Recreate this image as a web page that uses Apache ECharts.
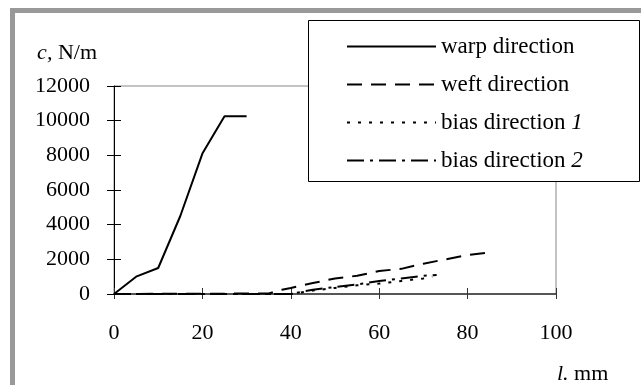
<!DOCTYPE html>
<html>
<head>
<meta charset="utf-8">
<script src="https://cdn.jsdelivr.net/npm/echarts@6/dist/echarts.min.js"></script>
<style>
  html, body { margin: 0; padding: 0; background: #fff; }
  #chart { width: 641px; height: 385px; }
</style>
</head>
<body>
<div id="chart"></div>
<script>
// 数据：每条曲线的 l (mm) 与 c (N/m)
const warpL = [0, 5, 10, 15, 20, 25, 30]
const warpC = [0, 1000, 1500, 4500, 8100, 10250, 10250]

const weftL = [0, 35, 38, 40, 45, 50, 55, 60, 65, 70, 75, 80, 85]
const weftC = [0, 30, 250, 350, 630, 900, 1050, 1330, 1450, 1750, 2000, 2250, 2400]

const bias1L = [0, 40, 45, 50, 55, 60, 65, 70, 72]
const bias1C = [0, 0, 200, 350, 500, 600, 750, 900, 1000]

const bias2L = [0, 40, 45, 50, 55, 60, 65, 70, 73]
const bias2C = [0, 0, 250, 400, 550, 750, 900, 1050, 1100]

const seriesNames = ['warp direction', 'weft direction', 'bias direction 1', 'bias direction 2']

const font = 'Liberation Serif'

const zip = (xs, ys) => xs.map((x, i) => [x, ys[i]])

const chart = echarts.init(document.getElementById('chart'))

// 线型
const lineTypes = ['solid', [15, 9], [3, 8], [17, 6, 3, 6]]
const lineData = [zip(warpL, warpC), zip(weftL, weftC), zip(bias1L, bias1C), zip(bias2L, bias2C)]

const series = seriesNames.map((name, i) => ({
  name: name,
  type: 'line',
  symbol: 'none',
  xAxisIndex: 0,
  yAxisIndex: 0,
  data: lineData[i],
  lineStyle: { color: '#000', width: 2, type: lineTypes[i] },
  itemStyle: { color: '#000' }
}))

const axisCommon = {
  type: 'value',
  splitLine: { show: false },
  axisLine: { show: true, lineStyle: { color: '#000', width: 1 } },
  axisTick: { show: true, length: 7, lineStyle: { color: '#000' } }
}

const option = {
  animation: false,
  backgroundColor: '#fff',
  textStyle: { fontFamily: font },
  grid: {
    left: 114, right: 85, top: 86, bottom: 91,
    show: true, borderColor: '#888', borderWidth: 1
  },
  xAxis: [
    {
      ...axisCommon,
      min: 0, max: 100, interval: 20,
      axisLine: { show: true, lineStyle: { color: '#333', width: 1.5 } },
      axisTick: { show: true, length: 5, lineStyle: { color: '#333' } },
      axisLabel: { color: '#000', fontSize: 22, fontFamily: font, margin: 28 },
      name: '{i|l.} mm',
      nameLocation: 'end',
      nameGap: 1,
      nameTextStyle: {
        color: '#000', fontSize: 22, fontFamily: font,
        align: 'left', verticalAlign: 'top', padding: [69, 0, 0, 0],
        rich: { i: { fontStyle: 'italic', fontSize: 22, fontFamily: font } }
      }
    },
    {
      ...axisCommon,
      min: 0, max: 100, interval: 20,
      position: 'bottom',
      axisLine: { show: false },
      axisTick: { show: true, inside: true, length: 6, lineStyle: { color: '#333' } },
      axisLabel: { show: false }
    }
  ],
  yAxis: [
    {
      ...axisCommon,
      min: 0, max: 12000, interval: 2000,
      axisLabel: { color: '#000', fontSize: 22, fontFamily: font, margin: 24, formatter: v => String(v) },
      name: '{i|c,} N/m',
      nameLocation: 'end',
      nameGap: 33,
      nameTextStyle: {
        color: '#000', fontSize: 22, fontFamily: font,
        align: 'right', verticalAlign: 'middle', padding: [0, 17, 0, 0],
        rich: { i: { fontStyle: 'italic', fontSize: 22, fontFamily: font } }
      }
    },
    {
      ...axisCommon,
      min: 0, max: 12000, interval: 2000,
      position: 'left',
      axisLine: { show: false },
      axisTick: { show: true, inside: true, length: 7, lineStyle: { color: '#000' } },
      axisLabel: { show: false }
    }
  ],
  legend: {
    orient: 'vertical',
    left: 341,
    top: 30,
    itemWidth: 89,
    itemHeight: 14,
    itemGap: 15,
    itemStyle: { color: 'transparent', borderColor: 'transparent', borderWidth: 0 },
    textStyle: {
      color: '#000', fontSize: 23, fontFamily: font, lineHeight: 22,
      rich: { i: { fontStyle: 'italic', fontSize: 23, fontFamily: font, color: '#000' } }
    },
    formatter: name => {
      const m = name.match(/^(.*) (\d)$/)
      return m ? m[1] + ' {i|' + m[2] + '}' : name
    },
    data: seriesNames
  },
  graphic: [
    // 外框灰边
    { type: 'rect', z: 10, shape: { x: 10, y: 8, width: 631, height: 5 }, style: { fill: '#999' } },
    { type: 'rect', z: 10, shape: { x: 10, y: 8, width: 5, height: 377 }, style: { fill: '#999' } },
    // 图例框
    { type: 'rect', z: 3, shape: { x: 308.5, y: 20.5, width: 331, height: 161 }, style: { fill: '#fff', stroke: '#000', lineWidth: 1 } }
  ],
  series: series
}

chart.setOption(option)
</script>
</body>
</html>
